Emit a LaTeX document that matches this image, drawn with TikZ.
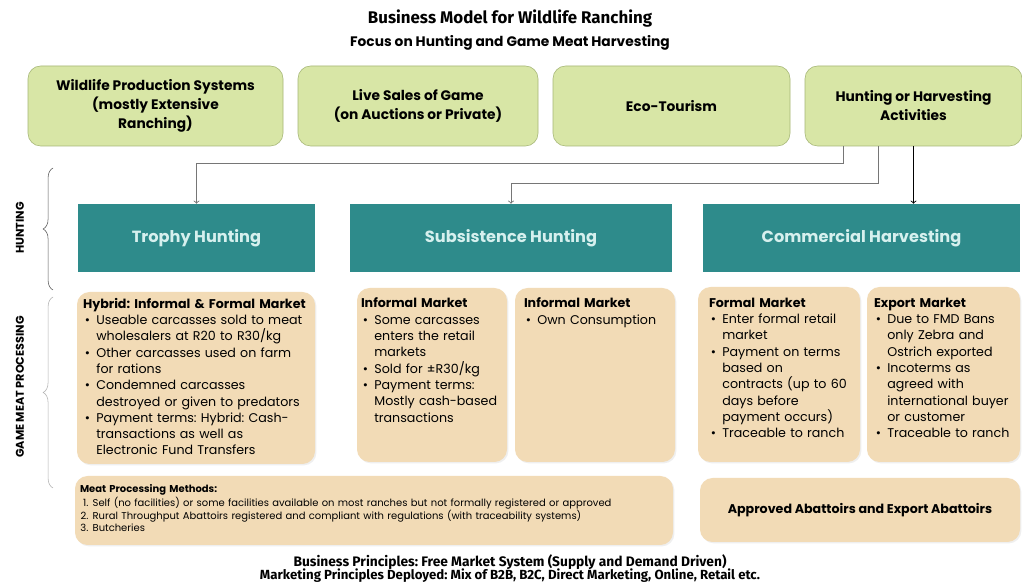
\documentclass[tikz,border=0pt]{standalone}
\usepackage{fontspec}
\setmainfont{Poppins}
\newfontfamily\titlefont{Fira Sans}
\usepackage{enumitem}
\usetikzlibrary{positioning, decorations.pathreplacing, shadows}
\frenchspacing

\definecolor{ranchgreen}{RGB}{216,230,166}
\definecolor{ranchedge}{RGB}{165,182,118}
\definecolor{huntteal}{RGB}{46,139,139}
\definecolor{huntlabel}{RGB}{214,240,238}
\definecolor{meattan}{RGB}{242,219,182}
\definecolor{linkgray}{RGB}{118,118,118}

\newcommand{\px}[1]{#1*0.025cm}
\setlist[itemize]{nosep, leftmargin=9.5pt, labelsep=4.5pt, label=\textbullet}
\setlist[enumerate]{nosep, leftmargin=9pt, labelsep=3pt, label=\arabic*.}

\tikzset{
  activity/.style={draw=ranchedge, fill=ranchgreen, rounded corners=9pt, align=center,
    font=\bfseries\fontsize{9.8}{13.5}\selectfont},
  huntbox/.style={fill=huntteal, text=huntlabel, font=\bfseries\fontsize{11.5}{14}\selectfont},
  marketbox/.style={fill=meattan, rounded corners=9pt,
    drop shadow={opacity=0.12, shadow xshift=1pt, shadow yshift=-1pt}},
  markettext/.style={anchor=north west, inner sep=0pt, font=\fontsize{9}{11.6}\selectfont},
  link/.style={->, draw=linkgray, semithick},
  sidelabel/.style={rotate=90, font=\bfseries\fontsize{8}{9}\selectfont},
  sidebrace/.style={decorate, decoration={brace, amplitude=7pt}},
}

\begin{document}
\begin{tikzpicture}[x=0.025cm, y=-0.025cm]
\useasboundingbox[fill=white] (0,0) rectangle (1022,583);

\node[font=\titlefont\bfseries\fontsize{12}{14}\selectfont] (title) at (510,19) {Business Model for Wildlife Ranching};
\node[font=\bfseries\fontsize{9.8}{11}\selectfont] (subtitle) at (510,43) {Focus on Hunting and Game Meat Harvesting};

\node[activity, minimum width=\px{255}, minimum height=\px{80}] (wps) at (155.5,106) {Wildlife Production Systems\\(mostly Extensive\\Ranching)};
\node[activity, minimum width=\px{240}, minimum height=\px{80}] (live) at (418,106) {Live Sales of Game\\(on Auctions or Private)};
\node[activity, minimum width=\px{237}, minimum height=\px{80}] (eco) at (671.5,106) {Eco-Tourism};
\node[activity, minimum width=\px{217}, minimum height=\px{80}] (hunt) at (913.5,106) {Hunting or Harvesting\\Activities};

\node[huntbox, minimum width=\px{237}, minimum height=\px{68}] (trophy) at (196.5,238) {Trophy Hunting};
\node[huntbox, minimum width=\px{322}, minimum height=\px{68}] (subs) at (511,238) {Subsistence Hunting};
\node[huntbox, minimum width=\px{317}, minimum height=\px{68}] (comm) at (861.5,238) {Commercial Harvesting};

\draw[link] ([xshift=\px{-70}]hunt.south) -- ++(0,17) -| (trophy.north);
\draw[link] ([xshift=\px{-35}]hunt.south) -- ++(0,37) -| (subs.north);
\draw[link, draw=black] (hunt.south) -- (hunt.south |- comm.north);

\draw[sidebrace, draw=black!65] (53,290) -- (53,168);
\draw[sidebrace, draw=black!30] (53,488) -- (53,297);
\node[sidelabel] (huntlbl) at (20,228) {HUNTING};
\node[sidelabel] (gamelbl) at (20,387) {GAME MEAT PROCESSING};

\node[marketbox, minimum width=\px{238}, minimum height=\px{172}] (hybrid) at (196,378) {};
\node[markettext, text width=\px{232}] at ([shift={(6,6)}]hybrid.north west) {\raggedright
  \textbf{Hybrid: Informal \& Formal Market}
  \begin{itemize}
    \item Useable carcasses sold to meat\\wholesalers at R20 to R30/kg
    \item Other carcasses used on farm\\for rations
    \item Condemned carcasses\\destroyed or given to predators
    \item Payment terms: Hybrid: Cash-\\transactions as well as\\Electronic Fund Transfers
  \end{itemize}};

\node[marketbox, minimum width=\px{150}, minimum height=\px{174}] (informal) at (432,375) {};
\node[markettext, text width=\px{146}] at ([shift={(4,10)}]informal.north west) {\raggedright
  \textbf{Informal Market}
  \begin{itemize}
    \item Some carcasses\\enters the retail\\markets
    \item Sold for \textpm R30/kg
    \item Payment terms:\\Mostly cash-based\\transactions
  \end{itemize}};

\node[marketbox, minimum width=\px{160}, minimum height=\px{174}] (ownuse) at (595,375) {};
\node[markettext, text width=\px{148}] at ([shift={(9,10)}]ownuse.north west) {\raggedright
  \textbf{Informal Market}
  \begin{itemize}
    \item Own Consumption
  \end{itemize}};

\node[marketbox, minimum width=\px{162}, minimum height=\px{175}] (formal) at (779,374.5) {};
\node[markettext, text width=\px{150}] at ([shift={(11,11)}]formal.north west) {\raggedright
  \textbf{Formal Market}
  \begin{itemize}
    \item Enter formal retail\\market
    \item Payment on terms\\based on\\contracts (up to 60\\days before\\payment occurs)
    \item Traceable to ranch
  \end{itemize}};

\node[marketbox, minimum width=\px{153}, minimum height=\px{175}] (export) at (943.5,374.5) {};
\node[markettext, text width=\px{148}] at ([shift={(7,11)}]export.north west) {\raggedright
  \textbf{Export Market}
  \begin{itemize}
    \item Due to FMD Bans\\only Zebra and\\Ostrich exported
    \item Incoterms as\\agreed with\\international buyer\\or customer
    \item Traceable to ranch
  \end{itemize}};

\node[marketbox, minimum width=\px{598}, minimum height=\px{69}] (methods) at (374,510.5) {};
\node[markettext, text width=\px{590}, font=\fontsize{7.1}{8.4}\selectfont] at ([shift={(5,9)}]methods.north west) {\raggedright
  \textbf{Meat Processing Methods:}
  \begin{enumerate}
    \item Self (no facilities) or some facilities available on most ranches but not formally registered or approved
    \item Rural Throughput Abattoirs registered and compliant with regulations (with traceability systems)
    \item Butcheries
  \end{enumerate}};

\node[marketbox, minimum width=\px{320}, minimum height=\px{64}, font=\bfseries\fontsize{9}{11}\selectfont] (abattoirs) at (860,510) {Approved Abattoirs and Export Abattoirs};

\node[font=\titlefont\bfseries\fontsize{9.8}{11}\selectfont] (principles) at (510,562) {Business Principles: Free Market System (Supply and Demand Driven)};
\node[font=\titlefont\bfseries\fontsize{9.4}{11}\selectfont] (marketing) at (510,576) {Marketing Principles Deployed: Mix of B2B, B2C, Direct Marketing, Online, Retail etc.};
\end{tikzpicture}
\end{document}
